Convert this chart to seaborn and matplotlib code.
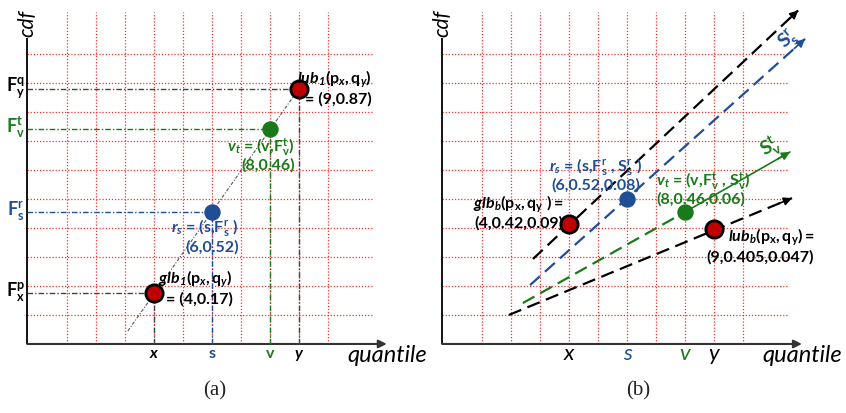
import numpy as np
import pandas as pd
import matplotlib
matplotlib.use("Agg")
import matplotlib.pyplot as plt
import seaborn as sns

# ---------------- data (grid units) ----------------
grid_ticks = [1, 2, 3, 4, 5, 6, 7, 8, 9, 10]
point_names = ["glb", "r_s", "v_t", "lub"]
tick_labels = ["x", "s", "v", "y"]

# panel (a)
a_quantile = [4, 6, 8, 9]
a_cdf = [1.75, 4.55, 7.4, 8.8]
a_cdf_labels = [r"$\mathbf{F^p_x}$", r"$\mathbf{F^r_s}$", r"$\mathbf{F^t_v}$", r"$\mathbf{F^q_y}$"]
a_diag_q = [3.1, 9.0]
a_diag_c = [0.45, 8.8]

# panel (b)
b_quantile = [4, 6, 8, 9]
b_cdf = [4.14, 5.0, 4.55, 3.97]
b_upper_q = [2.76, 11.9]
b_upper_c = [2.93, 11.5]
b_rs_q = [2.66, 12.14]
b_rs_c = [2.03, 10.52]
b_vt_q = [2.41, 8.0, 11.62]
b_vt_c = [1.41, 4.55, 6.62]
b_lower_q = [1.93, 11.69]
b_lower_c = [1.0, 5.03]

# ---------------- style ----------------
RED = "#c00000"
BLUE = "#1f4e96"
GREEN = "#1a7a1a"
GRIDC = "#ff2a2a"
point_colors = [RED, BLUE, GREEN, RED]
label_colors = ["black", BLUE, GREEN, "black"]
FS = 11.5

sns.set_theme(style="white")
plt.rcParams["font.family"] = ["Lato", "DejaVu Sans"]
plt.rcParams["mathtext.fontset"] = "custom"
plt.rcParams["mathtext.rm"] = "Lato"
plt.rcParams["mathtext.it"] = "Lato:italic"
plt.rcParams["mathtext.bf"] = "Lato:bold"
plt.rcParams["mathtext.bfit"] = "Lato:italic:bold"

fig = plt.figure(figsize=(8.46, 4.13), dpi=100)
axa = fig.add_axes([0, 0, 0.5, 1])
axb = fig.add_axes([0.5, 0, 0.5, 1])
axa.set_xlim(-1.31, 13.28)
axb.set_xlim(-1.03, 13.55)
for ax in (axa, axb):
    ax.set_ylim(-2.38, 11.86)
    ax.set_axis_off()

YAX = -0.37
XEND = 12.03


def draw_frame(ax, grid_right):
    for g in grid_ticks:
        ax.plot([g, g], [0, 11.45], color=GRIDC, lw=0.9, linestyle=(0, (1, 1.5)), zorder=1)
        ax.plot([YAX, grid_right], [g, g], color=GRIDC, lw=0.9, linestyle=(0, (1, 1.5)), zorder=1)
    ax.plot([YAX, YAX], [0, 10.55], color="black", lw=1.3, zorder=3, solid_capstyle="butt")
    ax.annotate("", xy=(XEND, 0), xytext=(YAX, 0),
                arrowprops=dict(arrowstyle="-|>", color="#333333", lw=1.5,
                                mutation_scale=12, shrinkA=0, shrinkB=0), zorder=3)
    ax.text(YAX, 10.6, "cdf", rotation=90, ha="center", va="bottom",
            fontsize=15, style="italic", color="black")
    ax.text(10.66, -0.4, "quantile", ha="left", va="center", fontsize=17,
            style="italic", color="black", clip_on=False)


def scatter(ax, q, c):
    df = pd.DataFrame({"quantile": q, "cdf": c, "name": point_names})
    for i, row in df.iterrows():
        is_red = point_colors[i] == RED
        sns.scatterplot(x=[row["quantile"]], y=[row["cdf"]], ax=ax, color=point_colors[i],
                        s=155 if is_red else 140,
                        edgecolor="black" if is_red else point_colors[i],
                        linewidth=2 if is_red else 0, zorder=6, legend=False)


def label(ax, x, y, s, color, ha, weight="bold", ls=1.15):
    ax.text(x, y, s, ha=ha, va="center", multialignment=ha if ha != "center" else "center",
            fontsize=FS, fontweight=weight, color=color, linespacing=ls, zorder=7)


# ---------------- panel (a) ----------------
draw_frame(axa, 11.55)
axa.plot(a_diag_q, a_diag_c, color="#555555", lw=0.8, linestyle=(0, (3, 1.5, 1, 1.5)), zorder=4)
for q, c, col in zip(a_quantile, a_cdf, label_colors):
    guide = "#444444" if col == "black" else col
    axa.plot([YAX, q], [c, c], color=guide, lw=1.0, linestyle=(0, (4, 1.5, 1, 1.5)), zorder=4)
    axa.plot([q, q], [0, c], color=guide, lw=1.0, linestyle=(0, (4, 1.5, 1, 1.5)), zorder=4)
scatter(axa, a_quantile, a_cdf)
for c, lab, col in zip(a_cdf, a_cdf_labels, label_colors):
    axa.text(YAX - 0.08, c + 0.05, lab, ha="right", va="center", fontsize=13, color=col)
for q, lab, col in zip(a_quantile, tick_labels, label_colors):
    sty = "italic" if col == "black" else "normal"
    axa.text(q, -0.33, lab, ha="center", va="center", fontsize=11.5, fontweight="bold",
             style=sty, color=col)

label(axa, 11.5, 8.84,
      r"$\mathbfit{lub_1}\mathbf{(p}_{\mathbfit{x}}\mathbf{,q}_{\mathbfit{y}}\mathbf{)}$" + "\n= (9,0.87)",
      "black", "right")
label(axa, 8.85, 6.55, r"$\mathbfit{v_t}$ = (v,$\mathbf{F^t_v}$)" + "\n(8,0.46)", GREEN, "right",
      ls=1.0)
label(axa, 6.92, 3.74, r"$\mathbfit{r_s}$ = (s,$\mathbf{F^r_s}$ )" + "\n(6,0.52)", BLUE, "right")
label(axa, 6.72, 1.95,
      r"$\mathbfit{glb_1}\mathbf{(p}_{\mathbfit{x}}\mathbf{,q}_{\mathbfit{y}}\mathbf{)}$" + "\n= (4,0.17)",
      "black", "right")
axa.text(6.1, -1.6, "(a)", ha="center", va="center", fontsize=15,
         family="Liberation Serif", color="#222222")

# ---------------- panel (b) ----------------
draw_frame(axb, 11.6)
DASH = (0, (6, 3))


def arrow_line(ax, q, c, color, solid_from=None):
    if solid_from is None:
        ax.plot(q, c, color=color, lw=1.6, linestyle=DASH, zorder=4)
    else:
        ax.plot(q[:solid_from + 1], c[:solid_from + 1], color=color, lw=1.6, linestyle=DASH, zorder=4)
        ax.plot(q[solid_from:], c[solid_from:], color=color, lw=1.2, zorder=4)
    dq, dc = q[-1] - q[-2], c[-1] - c[-2]
    n = np.hypot(dq, dc)
    ax.annotate("", xy=(q[-1], c[-1]), xytext=(q[-1] - 0.5 * dq / n, c[-1] - 0.5 * dc / n),
                arrowprops=dict(arrowstyle="-|>", color=color, lw=1.2, mutation_scale=12,
                                shrinkA=0, shrinkB=0), zorder=4)


arrow_line(axb, b_upper_q, b_upper_c, "black")
arrow_line(axb, b_rs_q, b_rs_c, BLUE)
arrow_line(axb, b_vt_q, b_vt_c, GREEN, solid_from=1)
arrow_line(axb, b_lower_q, b_lower_c, "black")
scatter(axb, b_quantile, b_cdf)

for q, lab, col in zip(b_quantile, tick_labels, label_colors):
    axb.text(q, -0.33, lab, ha="center", va="center", fontsize=16, style="italic", color=col)

axb.text(11.55, 10.5, r"$\mathbf{S^r_s}$", rotation=42, ha="center", va="center",
         fontsize=14, color=BLUE)
axb.text(10.95, 6.8, r"$\mathbf{S^t_v}$", rotation=29, ha="center", va="center",
         fontsize=14, color=GREEN)

label(axb, 4.93, 5.85,
      r"$\mathbfit{r_s}$ = (s,$\mathbf{F^r_s}$ , $\mathbf{S^r_s}$ )" + "\n(6,0.52,0.08)", BLUE, "center")
label(axb, 7.0, 5.38,
      r"$\mathbfit{v_t}$ = (v,$\mathbf{F^t_v}$ , $\mathbf{S^t_v}$)" + "\n(8,0.46,0.06)", GREEN, "left",
      ls=1.0)
label(axb, 3.8, 4.55, r"$\mathbfit{glb_b}\mathbf{(p_x,q_y\ )=}$" + "\n(4,0.42,0.09)", "black", "right")
label(axb, 12.45, 3.38, r"$\mathbfit{lub_b}\mathbf{(p_x,q_y)=}$" + "\n(9,0.405,0.047)", "black", "right")
axb.text(6.38, -1.6, "(b)", ha="center", va="center", fontsize=15,
         family="Liberation Serif", color="#222222")

fig.savefig("out.png", dpi=100)
